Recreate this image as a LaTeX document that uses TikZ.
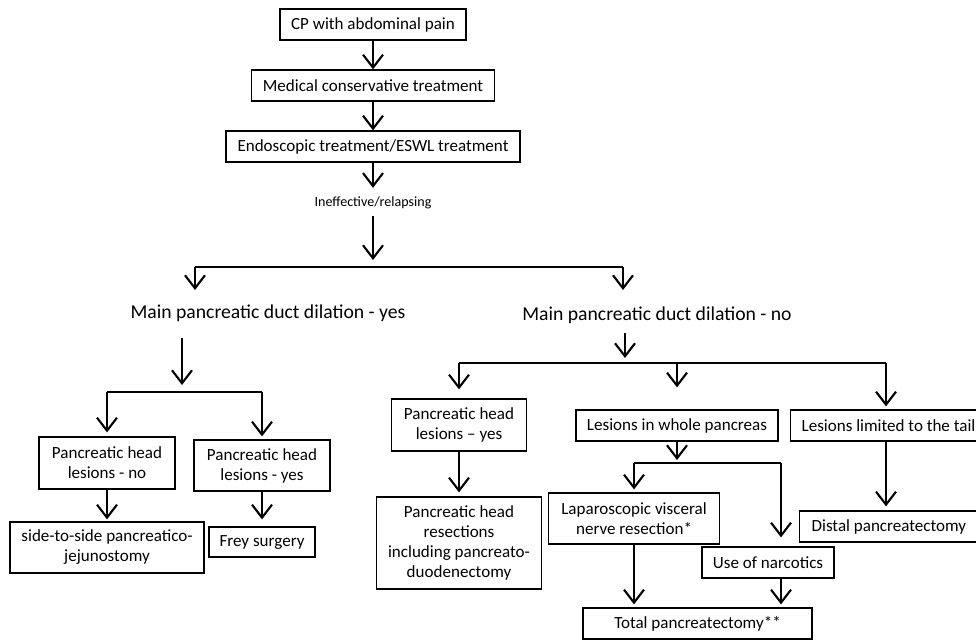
\documentclass[tikz,border=0pt]{standalone}
\usepackage{fontspec}
\setmainfont{Carlito}
\usetikzlibrary{arrows.meta, calc}

\begin{document}
\begin{tikzpicture}[x=0.2mm, y=-0.2mm,
        box/.style={draw, line width=0.7pt, align=center, inner sep=2pt,
            font=\fontsize{9.7}{11.4}\selectfont},
        head/.style={inner sep=1pt, font=\fontsize{11.2}{13.4}\selectfont},
        arr/.style={-{Straight Barb[length=2.6mm, width=4mm]}, line width=1.2pt},
        conn/.style={line width=1.2pt}]
            \useasboundingbox (0,0) rectangle (976,642);
            \node[box, minimum width=37.2mm, minimum height=6.2mm] (cp) at (373,24.5) {CP with abdominal pain};
            \node[box, minimum width=48.6mm, minimum height=6.2mm] (med) at (373,85.5) {Medical conservative treatment};
            \node[box, minimum width=58.8mm, minimum height=6.2mm] (endo) at (373,146.5) {Endoscopic treatment/ESWL treatment};
            \node[inner sep=1pt, font=\fontsize{8}{9}\selectfont] (ineff) at (373,203) {Ineffective/relapsing};
            \node[head] (yes) at (268,313) {Main pancreatic duct dilation - yes};
            \node[head] (no) at (657,315) {Main pancreatic duct dilation - no};
            \node[box, minimum width=27.2mm, minimum height=10.4mm] (headno) at (107,463) {Pancreatic head\\lesions - no};
            \node[box, minimum width=27.2mm, minimum height=10.2mm] (headyes) at (262,465.5) {Pancreatic head\\lesions - yes};
            \node[box, minimum width=38.8mm, minimum height=10.2mm] (side) at (107,547.5) {side-to-side pancreatico-\\jejunostomy};
            \node[box, minimum width=21.2mm, minimum height=6mm] (frey) at (262,542) {Frey surgery};
            \node[box, minimum width=27mm, minimum height=10.4mm] (headyesb) at (459,425) {Pancreatic head\\lesions -- yes};
            \node[box, minimum width=33mm, minimum height=18.4mm] (resect) at (459,543) {Pancreatic head\\resections\\including pancreato-\\duodenectomy};
            \node[box, minimum width=40.4mm, minimum height=6.2mm] (whole) at (677,425.5) {Lesions in whole pancreas};
            \node[box, anchor=west, inner xsep=2.2mm, minimum height=6.2mm] (tail) at (790,425.5) {Lesions limited to the tail};
            \node[box, anchor=west, inner xsep=2.4mm, minimum height=6.2mm] (distal) at (799,526.5) {Distal pancreatectomy};
            \node[box, minimum width=34.2mm, minimum height=10.2mm] (lap) at (634,518.5) {Laparoscopic visceral\\nerve resection*};
            \node[box, minimum width=26.4mm, minimum height=6.2mm] (narc) at (768,562.5) {Use of narcotics};
            \node[box, minimum width=45.8mm, minimum height=6.2mm] (total) at (697.5,623.5) {Total pancreatectomy**};

            \coordinate (s0) at (373,260);
            \coordinate (jl) at (195,267);
            \coordinate (jr) at (623,267);
            \coordinate (tl) at (195,290);
            \coordinate (tr) at (623,290);
            \coordinate (ya) at (182,338);
            \coordinate (yb) at (182,385);
            \coordinate (yl) at (107,392);
            \coordinate (yr) at (262,392);
            \coordinate (na) at (625,333);
            \coordinate (nb) at (625,358);
            \coordinate (nl) at (459,363);
            \coordinate (nm) at (677,363);
            \coordinate (nr) at (886,363);
            \coordinate (w0) at (677,460);
            \coordinate (wl) at (634,463);
            \coordinate (wr) at (781,463);

            \draw[arr] (cp) -- (med);
            \draw[arr] (med) -- (endo);
            \draw[arr, shorten >=1.4mm] (endo) -- (ineff);
            \draw[arr, shorten <=1mm] (ineff) -- (s0);
            \draw[conn] (jl) -- (jr);
            \draw[arr] (jl) -- (tl);
            \draw[arr] (jr) -- (tr);

            \draw[arr] (ya) -- (yb);
            \draw[conn] (yl) -- (yr);
            \draw[arr, shorten >=0.8mm] (yl) -- (headno);
            \draw[arr, shorten >=0.6mm] (yr) -- (headyes);
            \draw[arr, shorten >=0.4mm] (headno) -- (side);
            \draw[arr, shorten >=1.4mm] (headyes) -- (frey);

            \draw[arr] (na) -- (nb);
            \draw[conn] (nl) -- (nr);
            \draw[arr, shorten >=1.8mm] (nl) -- (headyesb);
            \draw[arr, shorten >=4.4mm] (nm) -- (whole);
            \draw[arr, shorten >=0.6mm] (nr) -- (nr |- tail.north);
            \draw[arr, shorten >=0.8mm] (headyesb) -- (resect);
            \draw[arr] (whole) -- (w0);
            \draw[conn] (wl) -- (wr);
            \draw[arr, shorten >=0.6mm] (wl) -- (lap);
            \draw[arr, shorten >=1.8mm] (wr) -- (wr |- narc.north);
            \draw[arr, shorten >=0.6mm] (lap) -- (lap.south |- total.north);
            \draw[arr, shorten >=0.6mm] (wr |- narc.south) -- (wr |- total.north);
            \draw[arr, shorten >=0.8mm] (nr |- tail.south) -- (nr |- distal.north);
        \end{tikzpicture}
\end{document}
